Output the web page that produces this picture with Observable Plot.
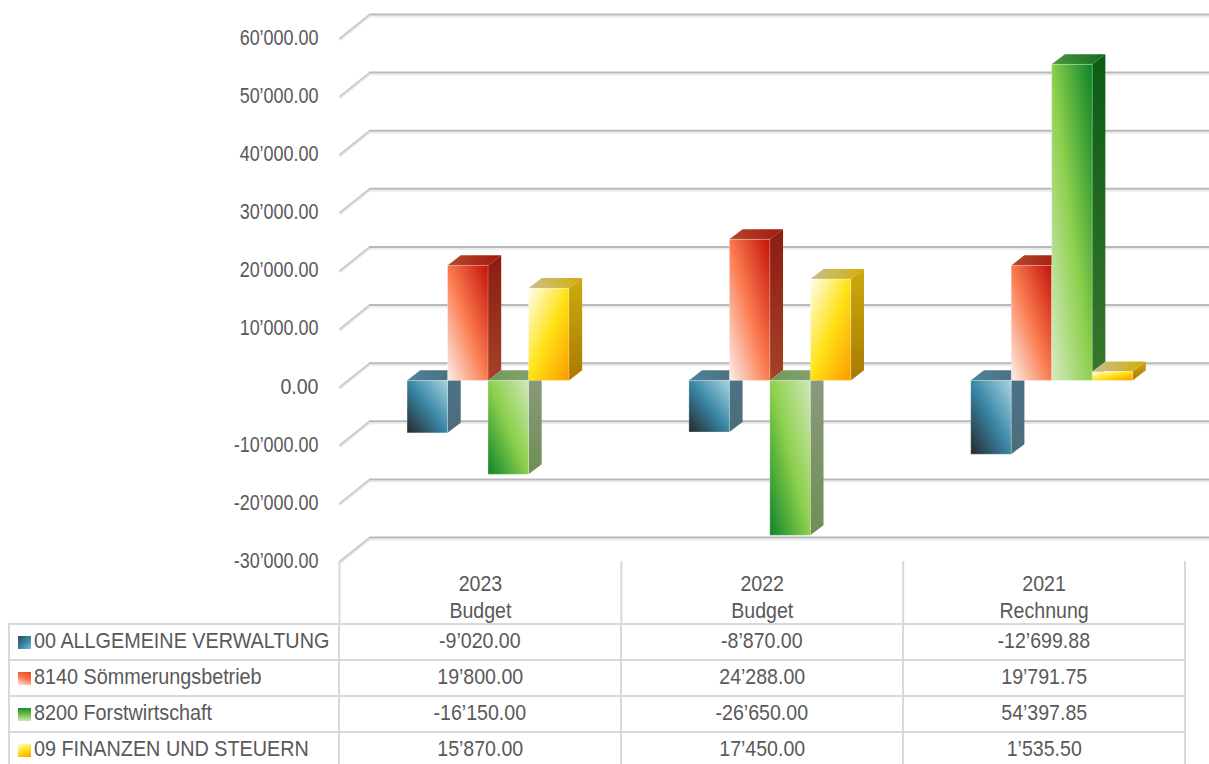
<!DOCTYPE html>
<html><head><meta charset="utf-8">
<script src="https://cdn.jsdelivr.net/npm/d3@7"></script>
<script src="https://cdn.jsdelivr.net/npm/@observablehq/plot@0.6"></script>
<style>
html,body{margin:0;padding:0;background:#fff;width:1209px;height:764px;overflow:hidden}
#chart svg{display:block}
table{border-collapse:collapse;table-layout:fixed;width:1176px;margin-left:8px;font-family:"Liberation Sans",Arial,sans-serif;font-size:21.5px;color:#595959}
td{border:2px solid #d9d9d9;height:34px;padding:0;text-align:center;white-space:nowrap;line-height:34px}
td.n{text-align:left;padding-left:8px}
.sw{display:inline-block;width:13px;height:13px;margin-right:3px;vertical-align:0}
.sq{display:inline-block;position:relative;top:-1px;transform:scaleX(.91);transform-origin:center}
td.n .sq{transform:scaleX(.92);transform-origin:left}
</style></head><body>
<div id="chart"></div>
<div id="table"></div>
<script>
const years = ["2023","2022","2021"];
const kinds = ["Budget","Budget","Rechnung"];
const seriesNames = ["00 ALLGEMEINE VERWALTUNG","8140 Sömmerungsbetrieb","8200 Forstwirtschaft","09 FINANZEN UND STEUERN"];
const verwaltung = [-9020.00,-8870.00,-12699.88];
const soemmerung = [19800.00,24288.00,19791.75];
const forst = [-16150.00,-26650.00,54397.85];
const finanzen = [15870.00,17450.00,1535.50];
const seriesValues = [verwaltung,soemmerung,forst,finanzen];
const yTicks = [60000,50000,40000,30000,20000,10000,0,-10000,-20000,-30000];

const fmt = d3.formatLocale({decimal:".",thousands:"’",grouping:[3],currency:["",""],minus:"-"}).format(",.2f");
const FONT = '"Liberation Sans",Arial,sans-serif';
const TXT = "#595959";

// projection of the oblique 3-D box, in data units
const DX = 30/282, DV = 24/58.11*10000, DVbar = 23/58.11*10000;
const barW = 40.5/282, gap = (1-4*barW)/2, d0 = .27, d1 = .71;
const px = (x,d)=>x+d*DX, pv = (v,d)=>v+d*DV, pb = (v,d)=>v+d*DVbar;

const palette = ["blue","red","green","yellow"];
const stops = {
  blue:[[0,"#25282b"],[.5,"#3a86a5"],[1,"#a6d5e3"]],
  red:[[0,"#fcefea"],[.5,"#fa7a4e"],[1,"#c4120a"]],
  greenUp:[[0,"#d6ebc2"],[.5,"#8ccf4c"],[1,"#0c8428"]],
  greenDown:[[0,"#0c8428"],[.5,"#8ccf4c"],[1,"#d0e8b6"]],
  yellow:[[0,"#fffef0"],[.5,"#ffe216"],[1,"#ff9a00"]],
  blueSide:[[0,"#4a7386"],[1,"#4d6d7c"]], blueTop:[[0,"#4f8299"],[1,"#4c6a7a"]],
  redSide:[[0,"#8c1c10"],[1,"#a54228"]], redTop:[[0,"#b44a2c"],[1,"#a3160c"]],
  greenUpSide:[[0,"#0b5c14"],[1,"#37772c"]], greenUpTop:[[0,"#4a9a3c"],[1,"#14691c"]],
  greenDownSide:[[0,"#8b9a80"],[1,"#6f8f52"]], greenDownTop:[[0,"#6f9a58"],[1,"#8ba078"]],
  yellowSide:[[0,"#ccaa10"],[1,"#a87a00"]], yellowTop:[[0,"#c8c090"],[1,"#d2ae08"]]
};
const dirs = {blue:[0,1,1,0],red:[0,1,1,0],greenUp:[0,1,1,0],greenDown:[0,1,1,0],yellow:[0,0,1,1]};
function defsMark(){
  const defs = d3.create("svg:defs");
  for(const [id,st] of Object.entries(stops)){
    const [a,b,c,e] = dirs[id] || (id.endsWith("Side")?[0,0,0,1]:[0,0,1,0]);
    const g = defs.append("linearGradient").attr("id",id).attr("x1",a).attr("y1",b).attr("x2",c).attr("y2",e);
    st.forEach(([o,col])=>g.append("stop").attr("offset",o).attr("stop-color",col));
  }
  return defs.node();
}
function barMarks(i,j){
  const v = seriesValues[j][i];
  let key = palette[j];
  if(key==="green") key = v>=0 ? "greenUp":"greenDown";
  const left = i+gap+j*barW, right = left+barW;
  const top = Math.max(v,0), bottom = Math.min(v,0);
  const fill = `url(#${key})`;
  return [
    Plot.area([d0,d1],{x1:d=>px(right,d),y1:d=>pb(bottom,d),y2:d=>pb(top,d),fill:`url(#${key}Side)`}),
    Plot.area([d0,d1],{x1:d=>px(left,d),x2:d=>px(right,d),y1:d=>pb(top,d),fill:`url(#${key}Top)`}),
    Plot.rect([v],{x1:px(left,d0),x2:px(right,d0),y1:pb(bottom,d0),y2:pb(top,d0),fill,stroke:"#ffffff",strokeOpacity:.28,strokeWidth:1})
  ];
}
const bars = [];
years.forEach((_,i)=>seriesValues.forEach((_,j)=>bars.push(...barMarks(i,j))));

const chart = Plot.plot({
  width:1209,height:623,
  marginLeft:339,marginRight:24.5,marginTop:38,marginBottom:62,
  style:{fontFamily:FONT,fontSize:"21.5px",background:"#fff",overflow:"hidden"},
  x:{domain:[0,3],axis:null},
  y:{domain:[-30000,60000],axis:null},
  marks:[
    defsMark,
    Plot.ruleY(yTicks,{y:v=>pv(v,1),x1:px(0,1),x2:px(3,1),stroke:"#ededed",strokeWidth:2,dy:2}),
    Plot.ruleY(yTicks,{y:v=>pv(v,1),x1:px(0,1),x2:px(3,1),stroke:"#b9b9b9",strokeWidth:2}),
    Plot.link(yTicks,{x1:px(0,0),y1:v=>v,x2:px(0,1),y2:v=>pv(v,1),stroke:"#e2e2e2",strokeWidth:3,dy:1}),
    Plot.link(yTicks,{x1:px(0,0),y1:v=>v,x2:px(0,1),y2:v=>pv(v,1),stroke:"#c4c4c4",strokeWidth:1.2}),
    ...bars,
    Plot.axisY(yTicks,{anchor:"left",tickSize:0,tickPadding:21,tickFormat:fmt,fill:TXT,label:null,fontSize:21.5,dy:-0.5}),
    Plot.axisX([0,1,2,3],{anchor:"bottom",tickSize:62,fill:"none",stroke:"#d9d9d9",strokeWidth:2,label:null}),
    Plot.axisX([.5,1.5,2.5],{anchor:"bottom",tickSize:0,tickPadding:10,lineHeight:1.27,label:null,fill:TXT,fontSize:21.5,
      tickFormat:t=>years[Math.floor(t)]+"\n"+kinds[Math.floor(t)]})
  ]
});
// the reference's type is a condensed sans: squeeze horizontally
d3.select(chart).selectAll("text").attr("transform",function(){
  const k = this.textContent.includes("000.00") ? .835 : .91;
  return (this.getAttribute("transform")||"")+` scale(${k},1)`;
});
document.getElementById("chart").append(chart);

const swatches = [
  "linear-gradient(135deg,#27505f,#3a86a5 55%,#7fbfd2)",
  "linear-gradient(200deg,#e8452a,#fa7a4e 50%,#fbe4dc)",
  "linear-gradient(180deg,#1c8a2e,#6fbf44 50%,#cfe6ba)",
  "linear-gradient(160deg,#fffce0,#ffe216 50%,#ff9a00)"
];
const tb = d3.select("#table").append("table");
const cg = tb.append("colgroup");
[330,282,282,282].forEach(w=>cg.append("col").style("width",w+"px"));
seriesNames.forEach((name,j)=>{
  const tr = tb.append("tr");
  const n = tr.append("td").attr("class","n");
  n.append("span").attr("class","sw").style("background",swatches[j]);
  n.append("span").attr("class","sq").text(name);
  seriesValues[j].forEach(v=>tr.append("td").append("span").attr("class","sq").text(fmt(v)));
});
</script>
</body></html>
